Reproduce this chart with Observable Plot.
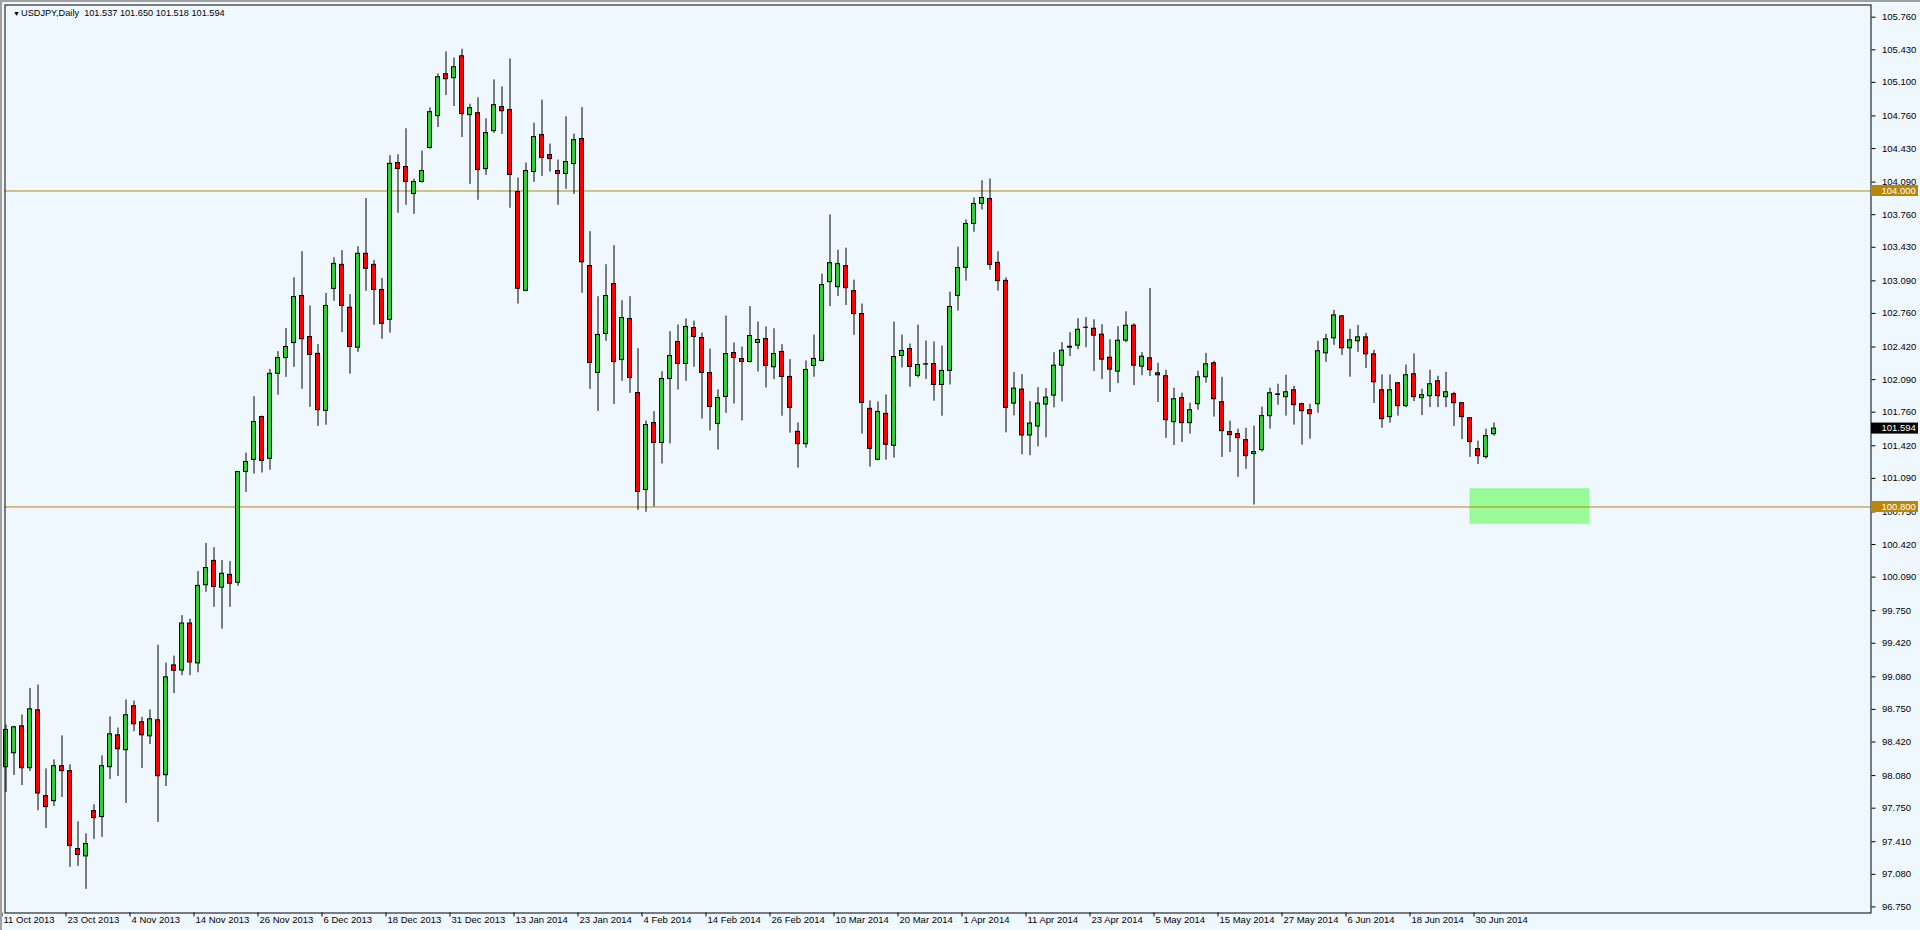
<!DOCTYPE html>
<html><head><meta charset="utf-8">
<script src="https://cdn.jsdelivr.net/npm/d3@7"></script>
<script src="https://cdn.jsdelivr.net/npm/@observablehq/plot@0.6"></script>
<style>
html,body{margin:0;padding:0;background:#F0F8FF;overflow:hidden;}
#chart{position:relative;width:1920px;height:930px;}
</style></head><body><div id="chart"></div>
<script>
// USDJPY Daily, one entry per trading day from 11 Oct 2013 to 2 Jul 2014
const openP = [98.165,98.306,98.579,98.155,98.741,97.872,97.821,98.175,98.125,97.336,97.262,97.720,97.660,98.165,98.488,98.337,98.782,98.620,98.478,98.640,98.084,99.196,99.145,99.620,99.216,100.008,100.254,99.983,100.113,100.033,101.154,101.277,101.711,101.288,102.149,102.308,102.460,102.937,102.521,102.351,101.773,103.009,103.252,102.818,102.413,103.364,103.252,102.998,102.695,104.283,104.243,103.970,104.091,104.435,104.758,105.182,105.142,105.364,104.768,104.788,104.222,104.606,104.849,104.819,103.990,102.989,104.192,104.566,104.364,104.202,104.172,104.273,104.527,103.240,102.157,102.552,103.058,102.288,102.704,101.954,100.972,101.650,101.448,102.096,102.471,102.248,102.612,102.511,102.157,101.640,101.914,102.359,102.298,102.268,102.461,102.501,102.215,102.370,102.117,101.561,101.436,102.228,102.279,103.077,103.026,103.239,102.986,102.754,101.794,101.278,101.743,101.420,102.329,102.400,102.127,102.242,102.248,102.036,102.178,102.937,103.222,103.666,103.869,103.919,103.272,103.090,101.847,101.989,101.524,101.615,101.837,101.928,102.231,102.413,102.434,102.615,102.605,102.545,102.312,102.171,102.484,102.636,102.221,102.306,102.154,102.124,101.659,101.902,101.649,101.841,102.114,102.255,101.861,101.558,101.538,101.477,101.336,101.376,101.720,101.935,101.912,101.982,101.841,101.780,101.841,102.356,102.508,102.730,102.407,102.478,102.518,102.346,101.982,101.710,102.053,101.821,102.144,101.902,101.922,102.073,101.912,101.942,101.851,101.699,101.386,101.305,101.537];
const highP = [98.593,98.579,98.694,98.963,98.997,98.148,98.239,98.482,98.189,97.612,97.491,97.784,98.279,98.674,98.562,98.846,98.835,98.670,98.744,99.401,99.219,99.290,99.700,99.664,100.146,100.431,100.388,100.258,100.247,101.160,101.346,101.917,101.720,102.192,102.373,102.608,103.121,103.385,102.836,102.445,102.962,103.324,103.396,102.951,103.436,103.924,103.295,103.114,104.358,104.367,104.630,104.121,104.404,104.842,105.186,105.408,105.347,105.435,104.879,104.943,104.731,105.125,105.054,105.337,104.131,104.283,104.687,104.920,104.475,104.313,104.751,104.576,104.844,103.588,102.930,103.254,103.446,102.889,102.930,102.403,101.671,101.765,102.170,102.575,102.643,102.704,102.683,102.562,102.400,101.985,102.734,102.461,102.420,102.829,102.673,102.623,102.605,102.444,102.292,101.652,102.279,102.541,103.158,103.758,103.400,103.421,103.097,102.855,101.874,101.864,101.935,102.673,102.541,102.450,102.642,102.481,102.471,102.430,102.976,103.431,103.707,103.929,104.104,104.121,103.384,103.121,102.161,102.140,101.868,102.009,101.999,102.363,102.464,102.565,102.706,102.717,102.696,102.646,102.494,102.626,102.777,102.656,102.363,103.013,102.255,102.185,102.003,101.952,101.851,102.174,102.356,102.276,102.114,101.669,101.588,101.598,101.619,101.811,102.003,102.043,102.134,102.023,101.851,101.841,102.478,102.548,102.791,102.740,102.599,102.639,102.558,102.387,102.137,102.137,102.060,102.238,102.350,101.993,102.185,102.124,102.164,101.962,101.855,101.700,101.467,101.588,101.650];
const lowP = [97.909,98.081,97.980,98.121,97.724,97.545,97.767,97.858,97.151,97.161,96.928,97.434,97.454,98.040,98.071,97.798,98.525,98.152,98.394,97.606,97.970,98.910,99.091,99.091,99.121,99.936,99.784,99.563,99.784,99.997,100.948,101.133,101.144,101.172,101.932,102.113,102.214,101.993,101.809,101.617,101.628,102.883,102.565,102.145,102.366,102.984,102.640,102.499,102.561,103.774,103.855,103.764,104.080,104.424,104.643,104.967,104.856,104.542,104.067,103.906,104.158,104.583,104.573,103.825,102.855,102.980,104.088,104.148,104.192,103.855,104.017,103.966,102.964,101.991,101.768,102.477,101.839,102.072,101.951,100.766,100.746,100.800,101.235,101.438,101.985,102.072,102.214,101.691,101.569,101.377,101.748,101.843,101.671,102.260,102.167,102.005,102.090,101.719,101.548,101.194,101.396,102.114,102.269,102.828,102.932,102.841,102.538,101.538,101.204,101.268,101.275,101.295,102.208,102.013,102.107,102.093,101.871,101.719,102.036,102.784,103.087,103.582,103.808,103.198,102.986,101.551,101.723,101.329,101.319,101.409,101.500,101.804,101.864,102.322,102.393,102.413,102.171,102.090,101.959,102.050,102.464,102.029,102.130,102.121,101.858,101.494,101.423,101.454,101.538,101.780,102.053,101.710,101.302,101.352,101.100,101.181,100.820,101.356,101.588,101.831,101.720,101.629,101.427,101.487,101.750,102.265,102.437,102.336,102.114,102.366,102.201,101.848,101.598,101.649,101.720,101.807,101.868,101.726,101.807,101.807,101.807,101.615,101.484,101.302,101.231,101.285,101.518];
const closeP = [98.542,98.569,98.155,98.751,97.899,97.761,98.175,98.125,97.366,97.276,97.387,97.649,98.175,98.498,98.347,98.691,98.600,98.488,98.650,98.074,99.075,99.142,99.620,99.226,100.001,100.182,99.990,100.124,100.023,101.154,101.256,101.661,101.266,102.149,102.308,102.420,102.926,102.499,102.340,101.780,102.836,103.262,102.836,102.420,103.364,103.212,102.998,102.655,104.275,104.222,104.091,104.091,104.202,104.798,105.152,105.132,105.253,104.778,104.839,104.212,104.586,104.869,104.808,104.162,103.010,104.202,104.546,104.334,104.323,104.172,104.293,104.515,103.278,102.258,102.542,102.937,102.268,102.714,102.106,100.952,101.630,101.448,102.096,102.329,102.248,102.623,102.521,102.157,101.812,101.904,102.349,102.309,102.268,102.531,102.491,102.228,102.349,102.117,101.804,101.436,102.188,102.299,103.047,103.269,103.259,103.016,102.754,101.854,101.389,101.763,101.430,102.319,102.380,102.218,102.238,102.245,102.036,102.178,102.826,103.220,103.666,103.869,103.929,103.252,103.087,101.804,101.999,101.524,101.645,101.847,101.908,102.231,102.383,102.423,102.595,102.616,102.535,102.292,102.191,102.484,102.636,102.231,102.322,102.185,102.134,101.679,101.891,101.649,101.780,102.114,102.245,101.891,101.568,101.528,101.497,101.315,101.356,101.720,101.952,101.940,101.962,101.831,101.770,101.740,102.377,102.498,102.740,102.407,102.488,102.518,102.346,102.063,101.689,101.982,101.821,102.134,101.912,101.932,102.043,101.922,101.962,101.851,101.710,101.457,101.315,101.518,101.594];

// bottom axis: bar number (0 = 11 Oct 2013) and its label
const tickBars = [0,8,16,24,32,40,48,56,64,72,80,88,96,104,112,120,128,136,144,152,160,168,176,184];
const tickLabels = ["11 Oct 2013","23 Oct 2013","4 Nov 2013","14 Nov 2013","26 Nov 2013","6 Dec 2013","18 Dec 2013","31 Dec 2013","13 Jan 2014","23 Jan 2014","4 Feb 2014","14 Feb 2014","26 Feb 2014","10 Mar 2014","20 Mar 2014","1 Apr 2014","11 Apr 2014","23 Apr 2014","5 May 2014","15 May 2014","27 May 2014","6 Jun 2014","18 Jun 2014","30 Jun 2014"];
// right price axis labels
const axisPrices = [105.760,105.430,105.100,104.760,104.430,104.090,103.760,103.430,103.090,102.760,102.420,102.090,101.760,101.420,101.090,100.750,100.420,100.090,99.750,99.420,99.080,98.750,98.420,98.080,97.750,97.410,97.080,96.750];
// horizontal levels and support zone (bars / prices)
const levels = [104.000, 100.800];
const zoneBars = [183, 198];
const zonePrices = [100.625, 100.985];
const symbol = "USDJPY,Daily";

const candles = openP.map((o, i) => ({i, o, h: highP[i], l: lowP[i], c: closeP[i]}));
const bulls = candles.filter(d => d.c >= d.o);
const bears = candles.filter(d => d.c < d.o);
const labelOf = new Map(tickBars.map((b, k) => [b, tickLabels[k]]));
const last = candles[candles.length - 1];
const FONT = "'Liberation Sans', Arial, sans-serif";

const plot = Plot.plot({
  width: 1920, height: 930,
  marginLeft: 4.5, marginRight: 49.5, marginTop: 4.5, marginBottom: 17.5,
  style: {background: "#F0F8FF", fontFamily: FONT, fontSize: "9.5px", color: "#000", overflow: "visible"},
  x: {type: "linear", domain: [-0.125, 233.125]},
  y: {type: "linear", domain: [96.6886, 105.8835]},
  marks: [
    Plot.rect([{x1: zoneBars[0], x2: zoneBars[1], y1: zonePrices[0], y2: zonePrices[1]}], {x1: "x1", x2: "x2", y1: "y1", y2: "y2", fill: "#98FB98"}),
    Plot.ruleY(levels, {stroke: "#B8860B", strokeWidth: 1}),
    Plot.ruleX(candles, {x: "i", y1: "l", y2: "h", stroke: "#000", strokeWidth: 1}),
    Plot.rect(bulls, {x1: d => d.i - 0.25, x2: d => d.i + 0.25, y1: "o", y2: "c", fill: "#32CD32", stroke: "#000", strokeWidth: 1}),
    Plot.rect(bears, {x1: d => d.i - 0.25, x2: d => d.i + 0.25, y1: "o", y2: "c", fill: "#FF0000", stroke: "#000", strokeWidth: 1}),
    Plot.axisY(axisPrices, {anchor: "right", label: null, tickSize: 4, tickPadding: 7, tickFormat: d => d.toFixed(3)}),
    Plot.axisX(tickBars, {anchor: "bottom", label: null, tickSize: 4, dx: -4, tickFormat: () => ""}),
    Plot.axisX(tickBars, {anchor: "bottom", label: null, tickSize: 0, tickPadding: 3.5, dx: -2.5, textAnchor: "start", tickFormat: d => labelOf.get(d)}),
    Plot.frame({stroke: "#000"}),
    Plot.text(["\u25BC"], {frameAnchor: "top-left", dx: 8, dy: 8.5, fontSize: 7, textAnchor: "start", lineAnchor: "middle"}),
    Plot.text([`${symbol}\u00a0 ${last.o.toFixed(3)} ${last.h.toFixed(3)} ${last.l.toFixed(3)} ${last.c.toFixed(3)}`], {frameAnchor: "top-left", dx: 16, dy: 8.5, fontSize: 9.2, textAnchor: "start", lineAnchor: "middle"})
  ]
});
document.getElementById("chart").appendChild(plot);

// price tags on the right axis
const yS = plot.scale("y");
const svg = d3.select(plot);
const tags = levels.map(v => ({v, fill: "#B8860B"})).concat([{v: last.c, fill: "#000"}]);
const g = svg.append("g").attr("font-family", FONT).attr("font-size", "9.5px").attr("text-anchor", "start");
tags.forEach(t => {
  const y = yS.apply(t.v);
  g.append("rect").attr("x", 1871).attr("y", y - 5.5).attr("width", 47).attr("height", 11).attr("fill", t.fill);
  g.append("text").attr("x", 1881.5).attr("y", y).attr("dy", "0.32em").attr("text-anchor", "start").attr("fill", "#fff").text(t.v.toFixed(3));
});
// window edge
svg.append("rect").attr("x", 0).attr("y", 0).attr("width", 1920).attr("height", 2).attr("fill", "#A0A0A0");
svg.append("rect").attr("x", 0).attr("y", 0).attr("width", 2).attr("height", 930).attr("fill", "#A0A0A0");
</script></body></html>
